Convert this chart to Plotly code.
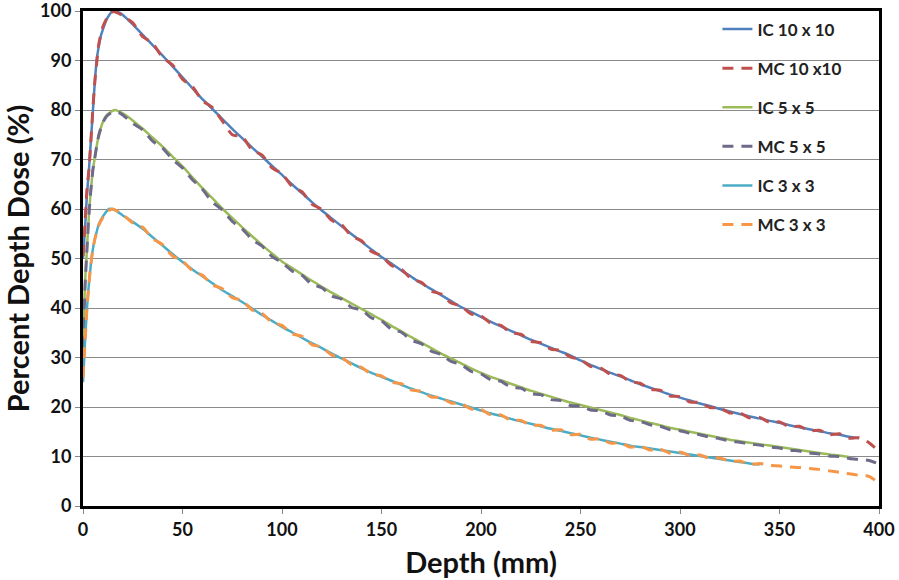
import plotly.graph_objects as go

# ---------------- data ----------------
ic10_depth = [0, 1, 2, 3, 4, 5, 6, 7, 8, 9, 10, 12, 15, 18, 20, 25, 30, 35, 40, 45, 50, 55, 60, 65, 70, 75, 80, 85, 90, 95,
              100, 105, 110, 115, 120, 125, 130, 135, 140, 145, 150, 155, 160, 165, 170, 175, 180, 185, 190, 195,
              200, 205, 210, 215, 220, 225, 230, 235, 240, 245, 250, 255, 260, 265, 270, 275, 280, 285, 290, 295,
              300, 305, 310, 315, 320, 325, 330, 335, 340, 345, 350, 355, 360, 365, 370, 375, 380, 385, 390]
ic10_dose = [50, 56, 63, 68, 74, 80, 86, 90.5, 93, 95, 96.3, 98.4, 100, 99.7, 99.2, 97.3, 95.2, 93.1, 91.0, 88.8, 86.6, 84.4, 82.2, 80.2, 78.2, 76.2, 74.3, 72.4, 70.6, 68.7,
             66.9, 65.0, 63.2, 61.4, 59.7, 58.1, 56.5, 54.9, 53.4, 51.8, 50.3, 49.0, 47.6, 46.3, 45.0, 43.8, 42.6, 41.4, 40.2, 39.2,
             38.2, 37.2, 36.3, 35.4, 34.5, 33.6, 32.8, 32.0, 31.2, 30.4, 29.4, 28.5, 27.7, 26.9, 26.2, 25.4, 24.6, 23.9, 23.2, 22.5,
             21.9, 21.3, 20.7, 20.2, 19.6, 19.1, 18.6, 18.1, 17.7, 17.2, 16.8, 16.3, 15.9, 15.5, 15.1, 14.7, 14.4, 14.0, 13.7]

mc10_depth = [0, 1, 2, 3, 4, 5, 6, 7, 8, 10, 12, 15, 18, 20, 25, 30, 35, 40, 45, 50, 55, 60, 65, 70, 75, 80, 85, 90, 95,
              100, 105, 110, 115, 120, 125, 130, 135, 140, 145, 150, 155, 160, 165, 170, 175, 180, 185, 190, 195,
              200, 205, 210, 215, 220, 225, 230, 235, 240, 245, 250, 255, 260, 265, 270, 275, 280, 285, 290, 295,
              300, 305, 310, 315, 320, 325, 330, 335, 340, 345, 350, 355, 360, 365, 370, 375, 380, 385, 390, 395, 400]
mc10_dose = [50.5, 57, 64, 68, 74, 80.5, 86, 90, 93.5, 96.8, 98.5, 99.9, 99.5, 99.0, 97.6, 94.8, 93.5, 90.6, 89.1, 86.2, 84.7, 81.9, 80.5, 77.8, 75.0, 74.6, 71.9, 70.9, 68.3,
             67.1, 64.6, 63.5, 61.0, 59.9, 57.7, 56.8, 54.5, 53.6, 51.4, 50.5, 48.6, 47.8, 45.9, 45.2, 43.4, 42.8, 41.0, 40.4, 38.8,
             38.4, 36.9, 36.5, 35.0, 34.7, 33.3, 33.0, 31.7, 31.4, 30.1, 29.6, 28.2, 27.9, 26.6, 26.4, 25.1, 24.8, 23.6, 23.4, 22.2,
             22.1, 21.0, 20.9, 19.9, 19.8, 18.8, 18.8, 17.8, 17.9, 16.9, 17.0, 16.0, 16.1, 15.2, 15.3, 14.4, 14.6, 13.7, 13.8, 12.8, 11.0]

ic5_depth = [0, 1, 2, 3, 4, 5, 6, 7, 8, 10, 12, 16, 20, 25, 30, 35, 40, 45, 50, 55, 60, 65, 70, 75, 80, 85, 90, 95,
             100, 105, 110, 115, 120, 125, 130, 135, 140, 145, 150, 155, 160, 165, 170, 175, 180, 185, 190, 195,
             200, 205, 210, 215, 220, 225, 230, 235, 240, 245, 250, 255, 260, 265, 270, 275, 280, 285, 290, 295,
             300, 305, 310, 315, 320, 325, 330, 335, 340, 345, 350, 355, 360, 365, 370, 375, 380, 385]
ic5_dose = [33, 45, 52, 59, 64, 68, 70.5, 73, 75, 77.6, 79.0, 80, 79.3, 77.9, 76.2, 74.4, 72.6, 70.6, 68.6, 66.4, 64.2, 62.2, 60.1, 58.2, 56.3, 54.5, 52.7, 51.0,
            49.4, 48.1, 46.8, 45.5, 44.3, 43.1, 42.0, 40.9, 39.8, 38.7, 37.6, 36.4, 35.3, 34.1, 33.0, 31.9, 30.8, 29.8, 28.8, 27.8,
            26.9, 26.1, 25.4, 24.7, 24.0, 23.3, 22.7, 22.1, 21.5, 20.9, 20.4, 19.9, 19.4, 18.9, 18.4, 17.8, 17.3, 16.8, 16.3, 15.8,
            15.4, 15.0, 14.6, 14.2, 13.8, 13.4, 13.1, 12.8, 12.5, 12.2, 11.9, 11.6, 11.3, 11.0, 10.7, 10.4, 10.2, 9.9]

mc5_depth = mc10_depth
mc5_dose = [32, 44, 52, 59, 64, 68, 70.5, 73, 75, 77.5, 78.8, 79.6, 79.5, 79.0, 77.3, 76.0, 73.7, 72.3, 70.0, 68.3, 65.9, 64.0, 61.4, 59.8, 57.5, 56.0, 53.8, 52.5, 50.4,
            49.2, 47.5, 46.6, 44.8, 44.1, 42.4, 41.8, 40.1, 39.6, 38.0, 37.4, 35.7, 35.1, 33.5, 32.8, 31.3, 30.6, 29.2, 28.6, 27.2,
            26.7, 25.5, 25.2, 24.0, 23.8, 22.7, 22.5, 21.5, 21.3, 20.3, 20.2, 19.4, 19.2, 18.4, 18.2, 17.3, 17.1, 16.4, 16.1, 15.4,
            15.2, 14.7, 14.4, 13.9, 13.6, 13.1, 12.9, 12.5, 12.3, 11.9, 11.7, 11.3, 11.1, 10.7, 10.5, 10.1, 10.0, 9.6, 9.4, 9.2, 8.5]

ic3_depth = [0, 1, 2, 3, 4, 5, 6, 7, 8, 10, 13, 16, 20, 25, 30, 35, 40, 45, 50, 55, 60, 65, 70, 75, 80, 85, 90, 95,
             100, 105, 110, 115, 120, 125, 130, 135, 140, 145, 150, 155, 160, 165, 170, 175, 180, 185, 190, 195,
             200, 205, 210, 215, 220, 225, 230, 235, 240, 245, 250, 255, 260, 265, 270, 275, 280, 285, 290, 295,
             300, 305, 310, 315, 320, 325, 330, 335, 340]
ic3_dose = [25, 33, 40, 45, 49, 52, 54, 55.6, 57, 58.5, 60, 59.8, 58.7, 57.4, 56.0, 54.3, 52.6, 50.9, 49.3, 47.8, 46.4, 45.0, 43.6, 42.4, 41.2, 39.9, 38.6, 37.4,
            36.2, 35.1, 34.0, 32.9, 31.9, 30.8, 29.8, 28.8, 27.8, 26.9, 26.1, 25.3, 24.5, 23.7, 23.0, 22.3, 21.7, 21.1, 20.5, 19.9,
            19.3, 18.7, 18.2, 17.6, 17.1, 16.6, 16.1, 15.6, 15.2, 14.7, 14.3, 13.8, 13.4, 13.0, 12.6, 12.2, 11.9, 11.6, 11.3, 11.0,
            10.7, 10.4, 10.1, 9.8, 9.5, 9.2, 8.9, 8.6, 8.4]

mc3_depth = mc10_depth
mc3_dose = [26, 33, 40, 45, 49, 52, 54, 55.5, 56.8, 58.3, 59.5, 60.0, 59.4, 58.9, 57.2, 56.3, 54.0, 52.8, 50.5, 49.5, 47.5, 46.6, 44.7, 43.9, 42.1, 41.5, 39.6, 38.9, 37.1,
            36.5, 34.8, 34.3, 32.6, 32.1, 30.5, 30.0, 28.5, 28.0, 26.6, 26.3, 25.0, 24.7, 23.4, 23.2, 22.0, 21.9, 20.8, 20.7, 19.6,
            19.5, 18.4, 18.4, 17.3, 17.3, 16.3, 16.3, 15.3, 15.4, 14.4, 14.5, 13.5, 13.6, 12.7, 12.8, 11.9, 12.1, 11.3, 11.5, 10.7,
            10.9, 10.2, 10.3, 9.6, 9.7, 9.0, 9.1, 8.4, 8.6, 8.2, 8.1, 7.9, 7.8, 7.6, 7.4, 7.1, 6.8, 6.5, 6.2, 6.0, 4.6]

series = [
    ("IC 10 x 10", ic10_depth, ic10_dose, "#4F81BD", "solid"),
    ("MC 10 x10", mc10_depth, mc10_dose, "#C0504D", "dash"),
    ("IC 5 x 5", ic5_depth, ic5_dose, "#9BBB59", "solid"),
    ("MC 5 x 5", mc5_depth, mc5_dose, "#6E6A8A", "dash"),
    ("IC 3 x 3", ic3_depth, ic3_dose, "#4BACC6", "solid"),
    ("MC 3 x 3", mc3_depth, mc3_dose, "#F79646", "dash"),
]

x_ticks = [0, 50, 100, 150, 200, 250, 300, 350, 400]
y_ticks = [0, 10, 20, 30, 40, 50, 60, 70, 80, 90, 100]

FONT = "Lato"

fig = go.Figure()
for i, (name, xs, ys, color, style) in enumerate(series):
    fig.add_trace(go.Scatter(
        x=xs, y=ys, mode="lines", name=name,
        legendgroup=f"g{i}",
        line=dict(color=color, width=2.5 if style == "solid" else 3,
                  dash="solid" if style == "solid" else "11px,8px",
                  shape="spline", smoothing=0.6),
    ))

fig.update_layout(
    width=899, height=580,
    margin=dict(l=83, r=20, t=11, b=74),
    paper_bgcolor="white", plot_bgcolor="white",
    showlegend=True,
    legend=dict(
        x=0.797, y=0.999, xanchor="left", yanchor="top",
        bgcolor="rgba(0,0,0,0)", borderwidth=0,
        font=dict(family=FONT, size=17, color="#222", weight="bold"),
        tracegroupgap=14, traceorder="grouped",
    ),
    xaxis=dict(
        range=[0, 400], tickvals=x_ticks, ticktext=[str(v) for v in x_ticks],
        showgrid=False, zeroline=False, automargin=False, ticklabeloverflow="allow",
        showline=True, linecolor="black", linewidth=3, mirror=True,
        ticks="outside", ticklen=5, tickcolor="#888", tickwidth=1,
        tickfont=dict(family=FONT, size=18, color="#111", weight="bold"),
        title=dict(text="Depth (mm)", font=dict(family=FONT, size=29, color="#111", weight="bold")),
    ),
    yaxis=dict(
        range=[0, 100], tickvals=y_ticks, ticktext=[str(v) for v in y_ticks],
        showgrid=True, gridcolor="#8a8a8a", gridwidth=1, zeroline=False, automargin=False,
        ticklabeloverflow="allow",
        showline=True, linecolor="black", linewidth=3, mirror=True,
        ticks="outside", ticklen=5, tickcolor="#888", tickwidth=1,
        tickfont=dict(family=FONT, size=18, color="#111", weight="bold"),
        title=dict(text="Percent Depth Dose (%)", font=dict(family=FONT, size=29, color="#111", weight="bold")),
    ),
)

fig.write_html("out.html", config={"displayModeBar": False},
               post_script="document.body.style.margin='0';document.body.style.overflow='hidden';")
